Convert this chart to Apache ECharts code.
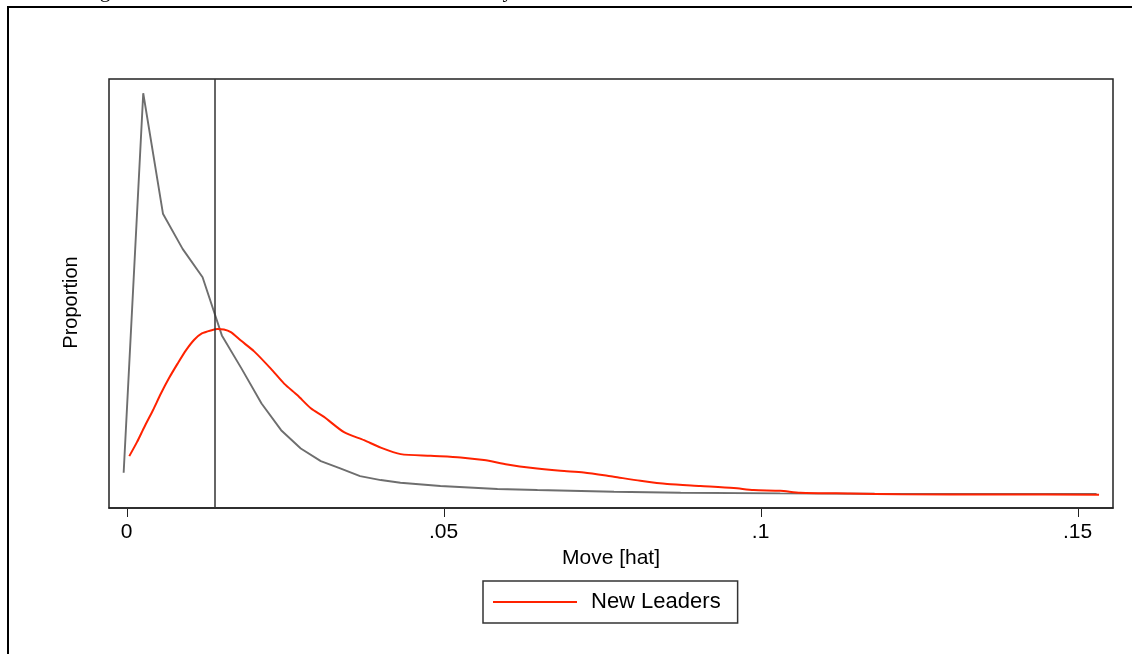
<!DOCTYPE html>
<html>
<head>
<meta charset="utf-8">
<script src="https://cdn.jsdelivr.net/npm/echarts@6/dist/echarts.min.js"></script>
<style>
html,body{margin:0;padding:0;background:#fff;}
#chart{width:1132px;height:654px;}
</style>
</head>
<body>
<div id="chart"></div>
<script>
// ---- data ----
const xTickValues = [0, 0.05, 0.1, 0.15];
const xTickLabels = ['0', '.05', '.1', '.15'];
const xTitle = 'Move [hat]';
const yTitle = 'Proportion';
const legendLabel = 'New Leaders';
const cutoffValue = 0.0139;
const titleText = 'Figure 4: Distribution of Estimated Move Sizes by Tenure';

// gray reference density (coarse grid)
const grayX = [-0.00046, 0.00263, 0.00574, 0.00884, 0.01199, 0.01503, 0.01814, 0.02129, 0.02438, 0.02748, 0.03064, 0.0337, 0.03683, 0.0401, 0.0432, 0.0495, 0.0585, 0.0648, 0.0769, 0.0874, 0.1031, 0.118, 0.135, 0.153];
const grayY = [0.0353, 0.4157, 0.295, 0.2597, 0.2313, 0.173, 0.1397, 0.1047, 0.078, 0.0597, 0.047, 0.0397, 0.032, 0.028, 0.0253, 0.022, 0.019, 0.018, 0.0163, 0.0153, 0.0147, 0.0143, 0.0141, 0.014];

// new leaders density (smooth)
const redX = [0.00043, 0.00164, 0.00279, 0.00416, 0.00542, 0.00668, 0.00805, 0.00936, 0.01067, 0.01188, 0.0133, 0.0144, 0.01535, 0.01645, 0.01803, 0.02012, 0.02275, 0.02485, 0.02696, 0.02906, 0.03115, 0.0343, 0.03746, 0.04009, 0.04324, 0.04797, 0.05269, 0.05637, 0.06005, 0.06373, 0.06845, 0.07212, 0.07685, 0.08105, 0.08527, 0.09052, 0.09576, 0.09891, 0.1031, 0.10627, 0.11415, 0.12203, 0.13779, 0.15339];
const redY = [0.052, 0.066, 0.081, 0.098, 0.1147, 0.130, 0.1447, 0.158, 0.1687, 0.175, 0.178, 0.1793, 0.179, 0.1763, 0.1678, 0.157, 0.1397, 0.1247, 0.113, 0.100, 0.0913, 0.076, 0.068, 0.0605, 0.054, 0.0523, 0.0507, 0.048, 0.0437, 0.0403, 0.0373, 0.0357, 0.0313, 0.0273, 0.024, 0.022, 0.020, 0.018, 0.0173, 0.0153, 0.0145, 0.0137, 0.0135, 0.0133];

const grayData = grayX.map((x, i) => [x, grayY[i]]);
const redData = redX.map((x, i) => [x, redY[i]]);
const tickData = xTickValues.map(v => [v, 0]);

const yMin = 0, yMax = 0.43;

const chart = echarts.init(document.getElementById('chart'), null, {renderer: 'canvas'});
const sans = '"Liberation Sans", Arial, Helvetica, sans-serif';

chart.setOption({
  animation: false,
  backgroundColor: '#ffffff',
  graphic: [
    {
      type: 'rect', silent: true, z: 0,
      shape: {x: 8, y: 7, width: 1300, height: 800},
      style: {fill: 'none', stroke: '#000', lineWidth: 2}
    },
    {
      type: 'text', silent: true, x: 81.9, y: -9,
      style: {text: titleText, font: '21.3px "Liberation Serif", "Times New Roman", serif', fill: '#000', verticalAlign: 'middle', align: 'left'}
    }
  ],
  grid: {
    left: 109, top: 79, right: 19, bottom: 146,
    show: true, borderColor: '#222', borderWidth: 1.5,
    containLabel: false
  },
  legend: {
    data: [{name: legendLabel, icon: 'rect'}],
    left: 483, top: 581,
    itemWidth: 84, itemHeight: 2,
    padding: [10, 17, 10, 10],
    borderColor: '#333', borderWidth: 1.5,
    textStyle: {fontFamily: sans, fontSize: 22, color: '#000', padding: [0, 0, 0, 9]}
  },
  xAxis: {
    type: 'value',
    position: 'bottom',
    min: -0.00277, max: 0.15559,
    name: xTitle, nameLocation: 'middle', nameGap: 38,
    nameTextStyle: {fontFamily: sans, fontSize: 21, color: '#000'},
    axisLine: {show: true, onZero: false, lineStyle: {color: '#222', width: 1.5}},
    splitLine: {show: false},
    axisTick: {show: false},
    axisLabel: {
      customValues: xTickValues, margin: 14,
      fontFamily: sans, fontSize: 21, color: '#000',
      formatter: v => { const i = xTickValues.findIndex(t => Math.abs(t - v) < 1e-9); return i >= 0 ? xTickLabels[i] : ''; }
    }
  },
  yAxis: {
    type: 'value',
    min: yMin, max: yMax,
    name: yTitle, nameLocation: 'middle', nameGap: 28,
    nameTextStyle: {fontFamily: sans, fontSize: 20, color: '#000', padding: [0, 18, 0, 0]},
    axisLine: {show: false, onZero: false}, axisTick: {show: false}, axisLabel: {show: false}, splitLine: {show: false}
  },
  series: [
    {
      name: 'All Leaders', type: 'line', data: grayData,
      showSymbol: false, smooth: false,
      lineStyle: {color: '#6e6e6e', width: 1.9},
      itemStyle: {color: '#6e6e6e'},
      z: 2,
      markLine: {
        silent: true, symbol: ['none', 'none'], label: {show: false},
        lineStyle: {color: '#333', width: 1.5, type: 'solid'},
        data: [[{coord: [cutoffValue, yMin]}, {coord: [cutoffValue, yMax]}]]
      }
    },
    {
      name: legendLabel, type: 'line', data: redData,
      showSymbol: false, smooth: 0.25,
      lineStyle: {color: '#ff2200', width: 2},
      itemStyle: {color: '#ff2200'},
      z: 3
    },
    {
      name: 'xTicks', type: 'custom', data: tickData, silent: true, clip: false,
      encode: {x: 0, y: 1},
      renderItem: function (params, api) {
        const p = api.coord([api.value(0), api.value(1)]);
        return {
          type: 'line',
          shape: {x1: Math.round(p[0]) + 0.5, y1: p[1] + 1, x2: Math.round(p[0]) + 0.5, y2: p[1] + 9},
          style: {stroke: '#222', lineWidth: 1}
        };
      }
    }
  ]
});
</script>
</body>
</html>
